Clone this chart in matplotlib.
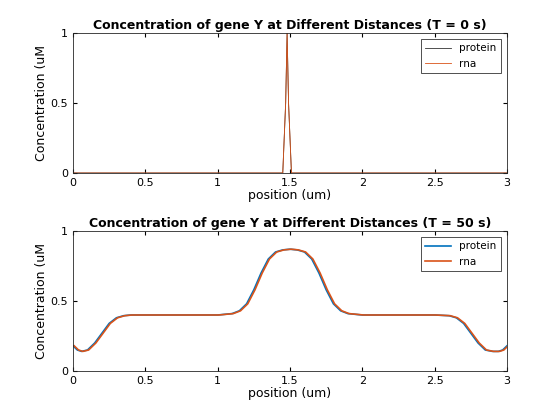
import matplotlib
matplotlib.use("Agg")
import matplotlib.pyplot as plt

# T = 0 s
x0 = [0.0, 1.45, 1.47, 1.48, 1.49, 1.51, 3.0]
protein0 = [0.0, 0.0, 0.5, 1.0, 0.5, 0.0, 0.0]
rna0 = [0.0, 0.0, 0.5, 1.0, 0.5, 0.0, 0.0]

# T = 50 s
x50 = [0.0, 0.03, 0.06, 0.1, 0.15, 0.2, 0.25, 0.3, 0.35, 0.4, 0.5, 1.0, 1.1, 1.15,
       1.2, 1.25, 1.3, 1.35, 1.4, 1.45, 1.5, 1.55, 1.6, 1.65, 1.7, 1.75, 1.8,
       1.85, 1.9, 2.0, 2.5, 2.6, 2.65, 2.7, 2.75, 2.8, 2.85, 2.9, 2.94, 2.97, 3.0]
protein50 = [0.18, 0.15, 0.14, 0.15, 0.20, 0.27, 0.34, 0.38, 0.395, 0.40, 0.40, 0.40,
             0.41, 0.43, 0.48, 0.58, 0.70, 0.80, 0.85, 0.865, 0.87, 0.865, 0.85,
             0.80, 0.70, 0.58, 0.48, 0.43, 0.41, 0.40, 0.40, 0.395, 0.38, 0.34,
             0.27, 0.20, 0.15, 0.14, 0.14, 0.15, 0.18]
rna50 = protein50

blue = "#0072BD"
orange = "#D95319"

fig = plt.figure(figsize=(5.6, 4.2), dpi=100)
ax1 = fig.add_axes([73 / 560, 1 - 173 / 420, 434 / 560, 140 / 420])
ax2 = fig.add_axes([73 / 560, 1 - 371 / 420, 434 / 560, 140 / 420])

ax1.plot(x0, protein0, color="#333333", lw=0.6, label="protein")
ax1.plot(x0, rna0, color=orange, lw=0.6, label="rna")
ax1.set_title("Concentration of gene Y at Different Distances (T = 0 s)",
              fontsize=9, fontweight="bold", pad=3)

ax2.plot(x50, protein50, color=blue, lw=1.2, label="protein")
ax2.plot([v + 0.008 for v in x50], rna50, color=orange, lw=1.2, label="rna")
ax2.set_title("Concentration of gene Y at Different Distances (T = 50 s)",
              fontsize=9, fontweight="bold", pad=3)

for ax in (ax1, ax2):
    ax.set_xlim(0, 3)
    ax.set_ylim(0, 1)
    ax.set_xticks([0, 0.5, 1, 1.5, 2, 2.5, 3])
    ax.set_xticklabels(["0", "0.5", "1", "1.5", "2", "2.5", "3"])
    ax.set_yticks([0, 0.5, 1])
    ax.set_yticklabels(["0", "0.5", "1"])
    ax.tick_params(direction="in", labelsize=8, length=3, top=True, right=True)
    ax.set_xlabel("position (um)", fontsize=9, labelpad=1)
    ax.set_ylabel("Concentration (uM", fontsize=9, labelpad=2)
    leg = ax.legend(loc="upper right", fontsize=7.5, fancybox=False,
                    framealpha=1, handlelength=2.5, borderaxespad=0.6)
    leg.get_frame().set_edgecolor("#333333")
    leg.get_frame().set_linewidth(0.6)
    for s in ax.spines.values():
        s.set_linewidth(0.6)
        s.set_color("#262626")

fig.savefig("out.png", dpi=100)
